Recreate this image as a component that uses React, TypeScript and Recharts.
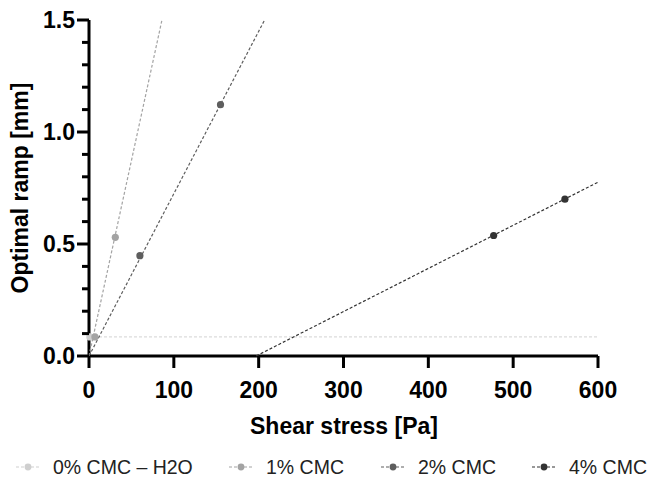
import {
  ScatterChart,
  Scatter,
  XAxis,
  YAxis,
  Label,
} from "recharts";

// series names + colours
const seriesNames = ["0% CMC – H2O", "1% CMC", "2% CMC", "4% CMC"];
const seriesColors = ["#cfcfcf", "#a3a3a3", "#5e5e5e", "#333333"];

// measured points
const h2oPoints = [{ x: 1, y: 0.085 }];
const cmc1Points = [
  { x: 7, y: 0.085 },
  { x: 31, y: 0.53 },
];
const cmc2Points = [
  { x: 60, y: 0.448 },
  { x: 155, y: 1.122 },
];
const cmc4Points = [
  { x: 477, y: 0.538 },
  { x: 561, y: 0.7 },
];

// fitted lines (end points)
const h2oFit = [
  { x: 0, y: 0.085 },
  { x: 600, y: 0.085 },
];
const cmc1Fit = [
  { x: 0, y: 0 },
  { x: 86, y: 1.5 },
];
const cmc2Fit = [
  { x: 0, y: 0 },
  { x: 207, y: 1.5 },
];
const cmc4Fit = [
  { x: 197, y: 0 },
  { x: 600, y: 0.776 },
];

const xTicks = [0, 100, 200, 300, 400, 500, 600];
const yTicks = [0, 0.1, 0.2, 0.3, 0.4, 0.5, 0.6, 0.7, 0.8, 0.9, 1.0, 1.1, 1.2, 1.3, 1.4, 1.5];
const yLabelTicks = [0, 0.5, 1.0, 1.5];

const FONT = '"Liberation Sans", Arial, Helvetica, sans-serif';

const pointSets = [h2oPoints, cmc1Points, cmc2Points, cmc4Points];
const fitSets = [h2oFit, cmc1Fit, cmc2Fit, cmc4Fit];

function YTick({ x, y, payload }: any) {
  const v = payload.value;
  const major = yLabelTicks.some((t) => Math.abs(t - v) < 1e-6);
  return (
    <g>
      <line x1={x - (major ? 12 : 7)} x2={x} y1={y} y2={y} stroke="#000" strokeWidth={3} />
      {major && (
        <text
          x={x - 14}
          y={y + 8}
          textAnchor="end"
          fontFamily={FONT}
          fontWeight="bold"
          fontSize={23}
          fill="#000"
        >
          {v.toFixed(1)}
        </text>
      )}
    </g>
  );
}

function XTick({ x, y, payload }: any) {
  return (
    <g>
      <line x1={x} x2={x} y1={y} y2={y + 12} stroke="#000" strokeWidth={3} />
      <text
        x={x}
        y={y + 42}
        textAnchor="middle"
        fontFamily={FONT}
        fontWeight="bold"
        fontSize={23}
        fill="#000"
      >
        {payload.value}
      </text>
    </g>
  );
}

const dot = (color: string) => (props: any) =>
  <circle cx={props.cx} cy={props.cy} r={3.6} fill={color} />;

const noDot = () => <g />;

const legendLefts = [16, 229, 381, 532];

function ChartLegend() {
  return (
    <>
      {seriesNames.map((name, i) => (
        <div
          key={name}
          style={{
            position: "absolute",
            left: legendLefts[i],
            top: 455,
            height: 24,
            display: "flex",
            alignItems: "center",
            fontFamily: FONT,
            fontSize: 19.5,
            color: "#222",
            whiteSpace: "nowrap",
          }}
        >
          <svg width={24} height={24} style={{ marginRight: 13 }}>
            <line
              x1={0}
              x2={24}
              y1={12}
              y2={12}
              stroke={seriesColors[i]}
              strokeWidth={1.2}
              strokeDasharray="3 2"
            />
            <circle cx={12} cy={12} r={3.4} fill={seriesColors[i]} />
          </svg>
          {name}
        </div>
      ))}
    </>
  );
}

export default function App() {
  return (
    <div style={{ position: "relative", width: 648, height: 478, background: "#fff" }}>
      <style>{"body{margin:0}"}</style>
      <ScatterChart
        width={648}
        height={478}
        margin={{ top: 20, right: 50, bottom: 62, left: 0 }}
      >
        <XAxis
          type="number"
          dataKey="x"
          domain={[0, 600]}
          ticks={xTicks}
          height={60}
          axisLine={{ stroke: "#000", strokeWidth: 3 }}
          tickLine={false}
          tickSize={0}
          tickMargin={0}
          tick={<XTick />}
          interval={0}
        >
          <Label
            content={() => (
              <text
                x={344}
                y={434}
                textAnchor="middle"
                fontFamily={FONT}
                fontWeight="bold"
                fontSize={23}
                fill="#000"
              >
                Shear stress [Pa]
              </text>
            )}
          />
        </XAxis>
        <YAxis
          type="number"
          dataKey="y"
          domain={[0, 1.5]}
          ticks={yTicks}
          width={89}
          axisLine={{ stroke: "#000", strokeWidth: 3 }}
          tickLine={false}
          tickSize={0}
          tickMargin={0}
          tick={<YTick />}
          interval={0}
        >
          <Label
            content={() => (
              <text
                x={28}
                y={188}
                transform="rotate(-90 28 188)"
                textAnchor="middle"
                fontFamily={FONT}
                fontWeight="bold"
                fontSize={23}
                fill="#000"
              >
                Optimal ramp [mm]
              </text>
            )}
          />
        </YAxis>
        {fitSets.map((fit, i) => (
          <Scatter
            key={"fit" + i}
            name={seriesNames[i] + " fit"}
            data={fit}
            line={{
              stroke: i === 0 ? "#dcdcdc" : seriesColors[i],
              strokeWidth: 1.2,
              strokeDasharray: "3 2",
            }}
            shape={noDot}
            legendType="none"
            isAnimationActive={false}
          />
        ))}
        {pointSets.map((pts, i) => (
          <Scatter
            key={"pts" + i}
            name={seriesNames[i]}
            data={pts}
            fill={seriesColors[i]}
            shape={dot(seriesColors[i])}
            isAnimationActive={false}
          />
        ))}
      </ScatterChart>
      <ChartLegend />
    </div>
  );
}
